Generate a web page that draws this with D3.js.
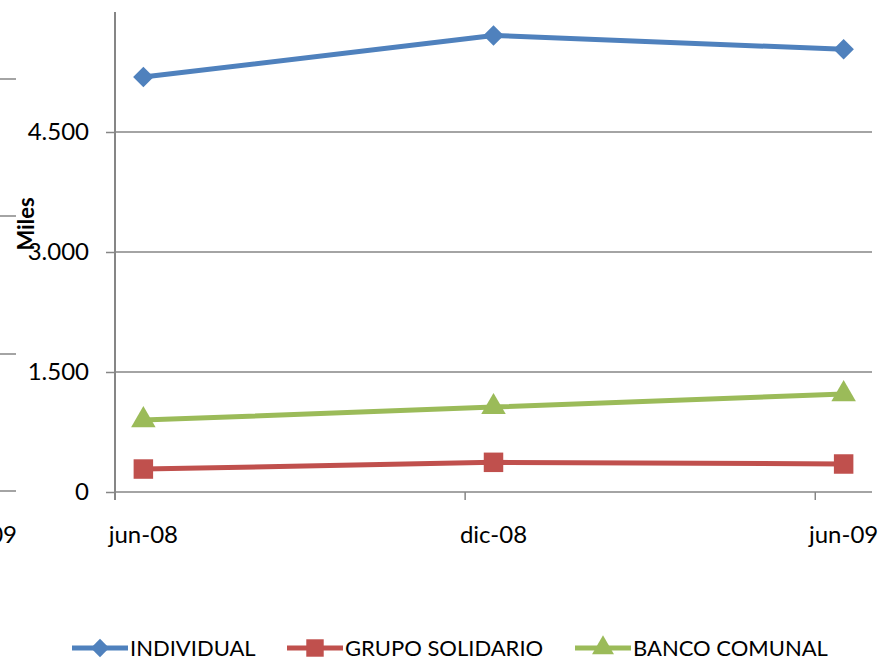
<!DOCTYPE html>
<html>
<head>
<meta charset="utf-8">
<script src="https://cdn.jsdelivr.net/npm/d3@7"></script>
<style>
	body { margin: 0; background: #fff; }
	svg text { font-family: Lato, "Liberation Sans", sans-serif; fill: #000; }
</style>
</head>
<body>
<div class="thegraph"></div>
<script>
var categories = ["jun-08", "dic-08", "jun-09"];
var individual = [5187, 5707, 5533];
var grupoSolidario = [287, 371, 350];
var bancoComunal = [899, 1062, 1224];
var yTicks = [0, 1500, 3000, 4500];
var yTickLabels = ["0", "1.500", "3.000", "4.500"];
var seriesNames = ["INDIVIDUAL", "GRUPO SOLIDARIO", "BANCO COMUNAL"];

(function() {
	var w = 879;
	var h = 661;
	var left = 115, right = 872, top = 12, bottom = 492;
	// diamond = square turned 45 degrees
	var series = [
		{ name: seriesNames[0], values: individual, color: "#4F81BD", marker: d3.symbolSquare, size: 210, rot: 45 },
		{ name: seriesNames[1], values: grupoSolidario, color: "#C0504D", marker: d3.symbolSquare, size: 380, rot: 0 },
		{ name: seriesNames[2], values: bancoComunal, color: "#9BBB59", marker: d3.symbolTriangle, size: 260, rot: 0 }
	];

	var svg = d3.select(".thegraph").append("svg")
		.attr("width", w)
		.attr("height", h)
		;

	var x = d3.scalePoint()
		.domain(categories)
		.range([left, right])
		.padding(0.081)
		;
	var y = d3.scaleLinear()
		.domain([0, 6000])
		.range([bottom, top])
		;

	// pieces of the neighbouring chart, cut off at the left edge
	svg.selectAll("line.stub")
		.data([79, 216, 354, 491])
		.enter()
		.append("line")
		.attr("class", "stub")
		.attr("x1", 0).attr("x2", 16)
		.attr("y1", function(d) { return d; })
		.attr("y2", function(d) { return d; })
		.attr("stroke", "#868686")
		.attr("stroke-width", 1.5)
		;
	svg.append("text")
		.attr("x", 17)
		.attr("y", 543)
		.attr("text-anchor", "end")
		.attr("font-size", "24px")
		.text("jun-09")
		;

	// gridlines
	svg.selectAll("line.grid")
		.data(yTicks.slice(1))
		.enter()
		.append("line")
		.attr("class", "grid")
		.attr("x1", left).attr("x2", right)
		.attr("y1", function(d) { return y(d); })
		.attr("y2", function(d) { return y(d); })
		.attr("stroke", "#868686")
		.attr("stroke-width", 1.5)
		;

	// y axis
	var yAxis = d3.axisLeft(y)
		.tickValues(yTicks)
		.tickSize(9)
		.tickPadding(17)
		.tickFormat(function(d, i) { return yTickLabels[i]; })
		;
	var gy = svg.append("g")
		.attr("transform", "translate(" + left + ",0)")
		.call(yAxis)
		;
	gy.select(".domain").remove();
	gy.append("line")
		.attr("x1", 0).attr("x2", 0)
		.attr("y1", top).attr("y2", bottom + 8)
		.attr("stroke", "#868686")
		.attr("stroke-width", 2)
		;
	gy.selectAll(".tick line").attr("stroke", "#868686").attr("stroke-width", 1.5);
	gy.selectAll(".tick text").attr("font-size", "24px").attr("fill", "#000");

	// x axis: ticks sit between the months, labels under the points
	var step = x.step();
	svg.append("line")
		.attr("x1", left).attr("x2", right)
		.attr("y1", bottom).attr("y2", bottom)
		.attr("stroke", "#868686")
		.attr("stroke-width", 1.5)
		;
	svg.selectAll("line.xtick")
		.data(categories)
		.enter()
		.append("line")
		.attr("class", "xtick")
		.attr("x1", function(d) { return x(d) - step * 0.081; })
		.attr("x2", function(d) { return x(d) - step * 0.081; })
		.attr("y1", bottom).attr("y2", bottom + 8)
		.attr("stroke", "#868686")
		.attr("stroke-width", 1.5)
		;
	svg.selectAll("text.xlabel")
		.data(categories)
		.enter()
		.append("text")
		.attr("class", "xlabel")
		.attr("x", function(d) { return x(d); })
		.attr("y", 543)
		.attr("text-anchor", "middle")
		.attr("font-size", "24px")
		.text(function(d) { return d; })
		;

	svg.append("text")
		.attr("transform", "translate(34,224) rotate(-90)")
		.attr("text-anchor", "middle")
		.attr("font-size", "22px")
		.attr("font-weight", "bold")
		.text("Miles")
		;

	// lines + markers
	var line = d3.line()
		.x(function(d, i) { return x(categories[i]); })
		.y(function(d) { return y(d); })
		;
	series.forEach(function(s) {
		svg.append("path")
			.datum(s.values)
			.attr("d", line)
			.attr("fill", "none")
			.attr("stroke", s.color)
			.attr("stroke-width", 5)
			.attr("stroke-linejoin", "round")
			;
		svg.selectAll(null)
			.data(s.values)
			.enter()
			.append("path")
			.attr("d", d3.symbol().type(s.marker).size(s.size))
			.attr("transform", function(d, i) {
				return "translate(" + x(categories[i]) + "," + y(d) + ") rotate(" + s.rot + ")";
			})
			.attr("fill", s.color)
			;
	});

	// legend
	var legendX = [72, 287, 575];
	var lg = svg.selectAll("g.legend")
		.data(series)
		.enter()
		.append("g")
		.attr("class", "legend")
		.attr("transform", function(d, i) { return "translate(" + legendX[i] + ",648)"; })
		;
	lg.append("line")
		.attr("x1", 0).attr("x2", 56)
		.attr("y1", 0).attr("y2", 0)
		.attr("stroke", function(d) { return d.color; })
		.attr("stroke-width", 5)
		;
	lg.append("path")
		.attr("d", function(d) { return d3.symbol().type(d.marker).size(d.size * 0.8)(); })
		.attr("transform", function(d) { return "translate(28,0) rotate(" + d.rot + ")"; })
		.attr("fill", function(d) { return d.color; })
		;
	lg.append("text")
		.attr("x", 58)
		.attr("y", 8)
		.attr("font-size", "22px")
		.text(function(d) { return d.name; })
		;
})();
</script>
</body>
</html>
